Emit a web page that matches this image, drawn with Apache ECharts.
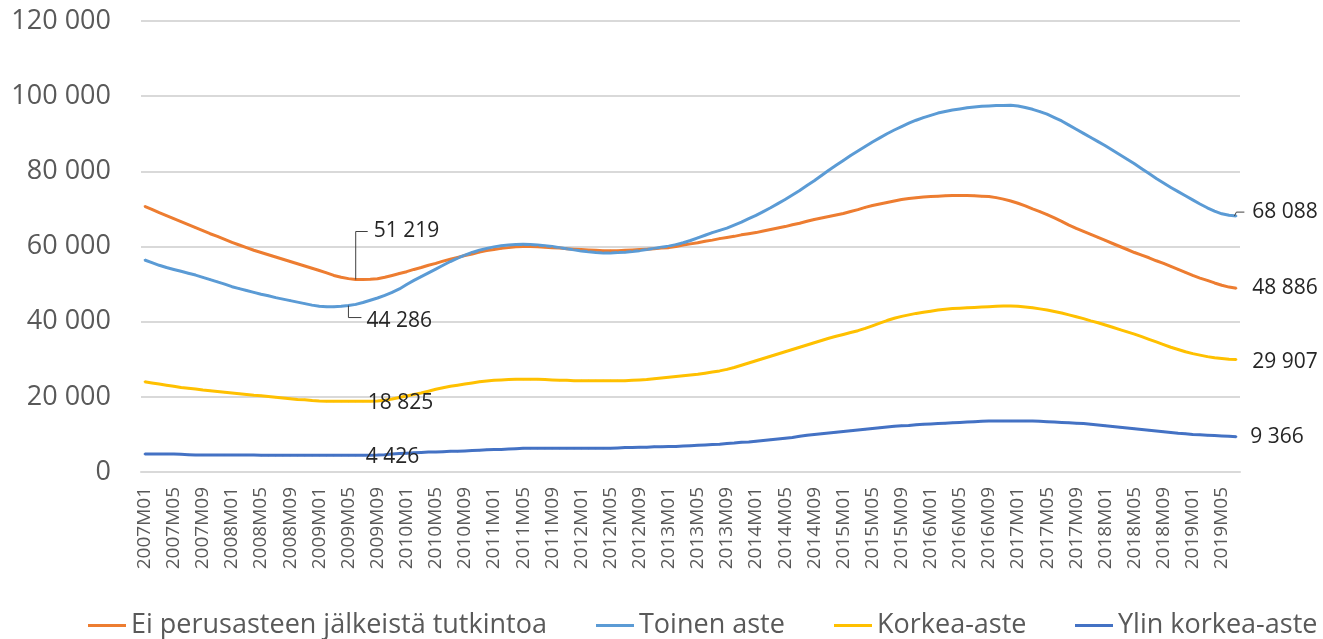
<!DOCTYPE html>
<html>
<head>
<meta charset="utf-8">
<script src="https://cdn.jsdelivr.net/npm/echarts@6/dist/echarts.min.js"></script>
<style>
  html, body { margin: 0; padding: 0; background: #fff; }
  #chart { width: 1323px; height: 639px; }
</style>
</head>
<body>
<div id="chart"></div>
<script>
// months 2007M01 .. 2019M07
const categories = []
for (let y = 2007; y <= 2019; y++) {
  for (let m = 1; m <= 12; m++) {
    if (y === 2019 && m > 7) break
    categories.push(y + 'M' + String(m).padStart(2, '0'))
  }
}

const seriesNames = ['Ei perusasteen jälkeistä tutkintoa', 'Toinen aste', 'Korkea-aste', 'Ylin korkea-aste']
const colors = ['#ED7D31', '#5B9BD5', '#FFC000', '#4472C4']

const eiPerus = [
  70700, 69900, 69000, 68200, 67400, 66600, 65800, 65000, 64200, 63400,
  62700, 61900, 61100, 60400, 59700, 59000, 58400, 57800, 57200, 56600,
  56000, 55400, 54800, 54200, 53600, 53000, 52300, 51800, 51450, 51219,
  51250, 51300, 51400, 51800, 52300, 52800, 53300, 53900, 54400, 55000,
  55500, 56100, 56600, 57100, 57600, 58000, 58500, 58900, 59200, 59500,
  59700, 59900, 60000, 60000, 59900, 59800, 59700, 59600, 59400, 59300,
  59200, 59100, 59000, 58900, 58900, 58900, 59000, 59100, 59200, 59300,
  59400, 59600, 59700, 60000, 60400, 60700, 61000, 61400, 61700, 62100,
  62400, 62700, 63100, 63400, 63700, 64100, 64500, 64900, 65300, 65800,
  66200, 66700, 67200, 67600, 68000, 68400, 68800, 69300, 69800, 70400,
  70900, 71300, 71700, 72100, 72500, 72800, 73000, 73200, 73300, 73400,
  73500, 73600, 73600, 73600, 73500, 73400, 73300, 73000, 72600, 72100,
  71500, 70800, 70000, 69300, 68500, 67600, 66700, 65700, 64800, 64000,
  63200, 62400, 61600, 60800, 60000, 59200, 58400, 57700, 57000, 56200,
  55500, 54700, 53900, 53100, 52300, 51600, 51000, 50300, 49700, 49200,
  48886
]

const toinenAste = [
  56400, 55700, 55000, 54400, 53900, 53400, 52900, 52400, 51800, 51200,
  50600, 50000, 49300, 48800, 48300, 47800, 47300, 46900, 46400, 46000,
  45600, 45200, 44800, 44400, 44100, 43950, 44000, 44100, 44286, 44600,
  45100, 45700, 46300, 47000, 47800, 48700, 49900, 51000, 52000, 53000,
  54000, 55000, 56000, 56900, 57700, 58400, 59000, 59500, 59900, 60200,
  60400, 60500, 60600, 60500, 60400, 60200, 60000, 59700, 59400, 59100,
  58800, 58600, 58400, 58300, 58300, 58400, 58500, 58700, 58900, 59200,
  59500, 59800, 60100, 60500, 61000, 61600, 62300, 63000, 63700, 64300,
  64900, 65700, 66500, 67400, 68300, 69300, 70300, 71400, 72500, 73700,
  74900, 76200, 77500, 78900, 80300, 81600, 82900, 84200, 85400, 86600,
  87800, 88900, 90000, 91000, 91900, 92800, 93600, 94300, 94900, 95500,
  95900, 96300, 96600, 96900, 97100, 97300, 97400, 97500, 97500, 97600,
  97400, 97000, 96500, 95900, 95200, 94300, 93400, 92300, 91200, 90100,
  89000, 87900, 86800, 85600, 84400, 83200, 82000, 80700, 79400, 78100,
  76900, 75700, 74600, 73500, 72400, 71300, 70300, 69400, 68700, 68300,
  68088
]

const korkeaAste = [
  24000, 23700, 23400, 23100, 22800, 22500, 22300, 22100, 21800, 21600,
  21400, 21200, 21000, 20800, 20600, 20400, 20300, 20100, 19900, 19700,
  19500, 19300, 19200, 19000, 18900, 18850, 18830, 18830, 18830, 18825,
  18840, 18850, 18900, 19100, 19400, 19800, 20200, 20600, 21000, 21500,
  22000, 22400, 22800, 23100, 23400, 23700, 24000, 24200, 24400, 24500,
  24600, 24700, 24700, 24700, 24700, 24600, 24500, 24400, 24400, 24300,
  24300, 24300, 24300, 24300, 24300, 24300, 24300, 24400, 24500, 24600,
  24800, 25000, 25200, 25400, 25600, 25800, 26000, 26300, 26600, 26900,
  27300, 27800, 28400, 29000, 29600, 30200, 30800, 31400, 32000, 32600,
  33200, 33800, 34400, 35000, 35600, 36100, 36600, 37100, 37600, 38200,
  38900, 39600, 40300, 40900, 41400, 41800, 42200, 42500, 42800, 43100,
  43300, 43500, 43600, 43700, 43800, 43900, 44000, 44100, 44200, 44200,
  44100, 43900, 43700, 43400, 43100, 42700, 42300, 41800, 41300, 40800,
  40200, 39700, 39100, 38500, 37900, 37300, 36700, 36000, 35300, 34600,
  33900, 33200, 32600, 32000, 31500, 31100, 30700, 30400, 30200, 30000,
  29907
]

const ylinKorkea = [
  4800, 4800, 4800, 4800, 4800, 4700, 4600, 4500, 4500, 4500,
  4500, 4500, 4500, 4500, 4500, 4500, 4450, 4450, 4450, 4450,
  4450, 4430, 4430, 4430, 4426, 4426, 4426, 4426, 4426, 4426,
  4430, 4450, 4500, 4600, 4800, 4900, 5000, 5100, 5200, 5300,
  5300, 5400, 5500, 5500, 5600, 5700, 5800, 5900, 6000, 6000,
  6100, 6200, 6300, 6300, 6300, 6300, 6300, 6300, 6300, 6300,
  6300, 6300, 6300, 6300, 6300, 6400, 6500, 6500, 6600, 6600,
  6700, 6700, 6800, 6800, 6900, 7000, 7100, 7200, 7300, 7400,
  7600, 7700, 7900, 8000, 8200, 8400, 8600, 8800, 9000, 9200,
  9500, 9800, 10000, 10200, 10400, 10600, 10800, 11000, 11200, 11400,
  11600, 11800, 12000, 12200, 12300, 12400, 12600, 12700, 12800, 12900,
  13000, 13100, 13200, 13300, 13400, 13500, 13600, 13600, 13600, 13600,
  13600, 13600, 13600, 13500, 13400, 13300, 13200, 13100, 13000, 12900,
  12700, 12500, 12300, 12100, 11900, 11700, 11500, 11300, 11100, 10900,
  10700, 10500, 10300, 10200, 10000, 9900, 9800, 9700, 9600, 9500,
  9366
]

const allValues = [eiPerus, toinenAste, korkeaAste, ylinKorkea]

// which points carry a data label (index + pixel nudge)
const labelSpots = [
  [{ i: 29, dx: 17, dy: -48 }, { i: 150, dx: 15, dy: 0 }],
  [{ i: 28, dx: 17, dy: 15 }, { i: 150, dx: 15, dy: -4 }],
  [{ i: 29, dx: 11, dy: 2 }, { i: 150, dx: 15, dy: 2 }],
  [{ i: 29, dx: 9, dy: 2 }, { i: 150, dx: 13, dy: 0 }]
]
// leader lines, relative to the data point
const leaders = [
  { s: 0, i: 29, pts: [[0, 0], [0, -48], [12, -48]] },
  { s: 1, i: 28, pts: [[0, 0], [0, 12], [13, 12]] },
  { s: 1, i: 150, pts: [[-2, 0], [0, -4], [8, -4]] }
]
const legendLefts = [88, 596, 834, 1075]

const font = 'Open Sans'
const fmt = (v) => String(Math.round(v)).replace(/\B(?=(\d{3})+(?!\d))/g, ' ')

const chart = echarts.init(document.getElementById('chart'))

const series = allValues.map((vals, k) => ({
  name: seriesNames[k],
  type: 'line',
  data: vals.map((v, i) => {
    const spot = labelSpots[k].find((p) => p.i === i)
    return spot ? { value: v, label: { show: true, offset: [spot.dx, spot.dy] } } : v
  }),
  symbol: 'circle',
  symbolSize: 2,
  showSymbol: true,
  showAllSymbol: true,
  lineStyle: { width: 3, color: colors[k] },
  itemStyle: { color: colors[k] },
  label: {
    show: false,
    position: 'right',
    distance: 0,
    formatter: (p) => fmt(p.value),
    fontFamily: font,
    fontSize: 21,
    color: '#262626'
  },
  emphasis: { disabled: true }
}))

chart.setOption({
  animation: false,
  grid: { left: 141, right: 83, top: 21, bottom: 167 },
  legend: seriesNames.map((n, k) => ({
    data: [n],
    left: legendLefts[k],
    top: 612,
    padding: 0,
    icon: 'rect',
    itemWidth: 38,
    itemHeight: 3,
    textStyle: { fontFamily: font, fontSize: 27, color: '#595959' }
  })),
  xAxis: {
    type: 'category',
    data: categories,
    boundaryGap: true,
    axisLine: { lineStyle: { color: '#d9d9d9', width: 2 } },
    axisTick: { show: false },
    axisLabel: {
      interval: 3,
      rotate: 90,
      margin: 15,
      fontFamily: font,
      fontSize: 19,
      color: '#595959'
    }
  },
  yAxis: {
    type: 'value',
    min: 0,
    max: 120000,
    interval: 20000,
    axisLine: { show: false },
    axisTick: { show: false },
    splitLine: { lineStyle: { color: '#d9d9d9', width: 2 } },
    axisLabel: {
      margin: 30,
      formatter: (v) => fmt(v),
      fontFamily: font,
      fontSize: 27,
      color: '#595959'
    }
  },
  series
})

// leader lines drawn from the data points
const graphics = leaders.map((l) => {
  const p = chart.convertToPixel({ seriesIndex: l.s }, [categories[l.i], allValues[l.s][l.i]])
  return {
    type: 'polyline',
    silent: true,
    z: 10,
    shape: { points: l.pts.map(([dx, dy]) => [p[0] + dx, p[1] + dy]) },
    style: { stroke: '#404040', lineWidth: 1, fill: null }
  }
})
chart.setOption({ graphic: graphics })
</script>
</body>
</html>
